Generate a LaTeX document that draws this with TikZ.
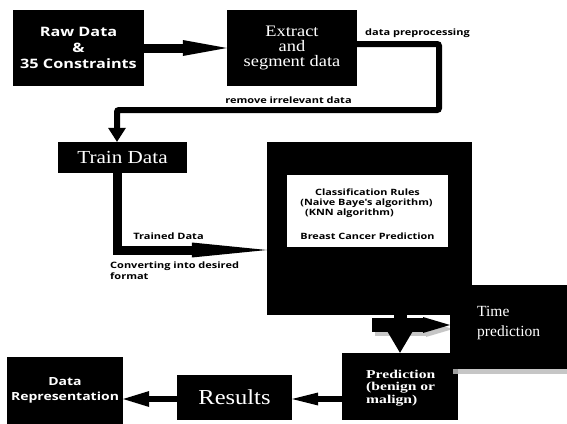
\documentclass[tikz,border=0pt]{standalone}
\usepackage{fontspec}
\usetikzlibrary{arrows.meta}
\newfontfamily\osans{Open Sans}[FakeStretch=1.25]
\newfontfamily\serifw{Liberation Serif}[FakeStretch=1.15]
\newfontfamily\serifn{Liberation Serif}
\newfontfamily\serifb{Liberation Serif}[FakeStretch=1.3]
\tikzset{
  blk/.style={fill=black, draw=none, inner sep=0pt, text=white},
  lbl/.style={inner sep=0pt, text=black, font=\osans\bfseries\fontsize{8.8}{10.5}\selectfont},
  inlbl/.style={inner sep=0pt, text=black, font=\osans\bfseries\fontsize{8.7}{10.5}\selectfont},
}
\begin{document}
\begin{tikzpicture}[x=1pt,y=-1pt]
\fill[white] (0,0) rectangle (567,423);
\useasboundingbox (0,0) rectangle (567,423);

% boxes
\node[blk, minimum width=131pt, minimum height=76pt, align=center,
  font=\osans\bfseries\fontsize{13}{16}\selectfont] (raw) at (78.5,48) {Raw Data\\\&\\35 Constraints};
\node[blk, minimum width=130pt, minimum height=76pt, align=center,
  font=\serifw\fontsize{16}{15}\selectfont] (extract) at (292,48) {Extract\\and\\segment data};
\node[blk, minimum width=129pt, minimum height=31pt,
  font=\serifw\fontsize{18.4}{20}\selectfont] (train) at (122.5,157.5) {Train Data};
\node[blk, minimum width=205pt, minimum height=173pt] (big) at (369.5,228.5) {};
\node[fill=white, minimum width=161pt, minimum height=72pt, inner sep=0pt] (inner) at (367.5,211) {};
\node[inlbl] (cr) at (367.5,192) {Classification Rules};
\node[inlbl] (nb) at (366.5,203) {(Naive Baye's algorithm)};
\node[inlbl] (knn) at (349.5,213.5) {(KNN algorithm)};
\node[inlbl] (bcp) at (367.5,236) {Breast Cancer Prediction};

\node[blk, minimum width=116pt, minimum height=67pt] (pred) at (400,386.5) {};
\node[inner sep=0pt, text=white, anchor=west, align=left,
  font=\serifb\bfseries\fontsize{12}{12.5}\selectfont] (predt) at (366,388) {Prediction\\(benign or\\malign)};
\node[blk, minimum width=115pt, minimum height=45pt,
  font=\serifw\fontsize{21.3}{22}\selectfont] (results) at (234.5,397.5) {Results};
\node[blk, minimum width=116pt, minimum height=67pt, align=center,
  font=\osans\bfseries\fontsize{11.2}{15}\selectfont] (datarep) at (65,390) {Data\\Representation};

% coordinates
\coordinate (c1) at (439,44);
\coordinate (c2) at (439,110);
\coordinate (c3) at (117,110);
\coordinate (c4) at (117,250);
\coordinate (c5) at (372,325);
\coordinate (c5s) at (375,329);
\coordinate (c6) at (0,399);

% arrows
\draw[line width=9pt, -{Triangle[length=44pt,width=16pt,line width=0pt]}] (raw.east) -- (extract.west);
\draw[line width=6pt, rounded corners=2pt, -{Triangle[length=14pt,width=18pt,line width=0pt]}]
  (extract.east |- c1) -- (c1) -- (c2) -- (c3) -- (c3 |- train.north);
\draw[line width=9pt, -{Triangle[length=75pt,width=15pt,line width=0pt]}]
  (c4 |- train.south) -- (c4) -- (c4 -| big.west);
% shadow of right arrow
\draw[gray!45, line width=13pt, -{Triangle[length=27pt,width=16pt,line width=0pt]}] (c5s) -- ++(78,0);
\draw[line width=13pt, -{Triangle[length=22pt,width=26pt,line width=0pt]}] (big.south -| pred.north) -- (pred.north);
\draw[line width=14pt, -{Triangle[length=27pt,width=16pt,line width=0pt]}] (c5) -- (c5 -| 450,0);
\draw[line width=6pt, -{Triangle[length=26pt,width=13pt,line width=0pt]}] (pred.west |- c6) -- (results.east |- c6);
\draw[line width=6pt, -{Triangle[length=26pt,width=16pt,line width=0pt]}] (results.west |- c6) -- (datarep.east |- c6);

% time prediction box with shadow
\fill[gray!45] (458,369) rectangle (567,374);
\fill[gray!75] (453,369) rectangle (458,374);
\node[blk, minimum width=117pt, minimum height=84pt] (time) at (508.5,327) {};
\node[inner sep=0pt, text=white, anchor=west, align=left,
  font=\serifn\fontsize{15.5}{20}\selectfont] (timet) at (477,323) {Time\\prediction};

% labels
\node[lbl] (dp) at (417.5,33) {data preprocessing};
\node[lbl] (ri) at (288.5,100) {remove irrelevant data};
\node[lbl] (td) at (168.5,236) {Trained Data};
\node[lbl, anchor=north west, align=left] (cv) at (110,262) {Converting into desired\\format};
\end{tikzpicture}
\end{document}
